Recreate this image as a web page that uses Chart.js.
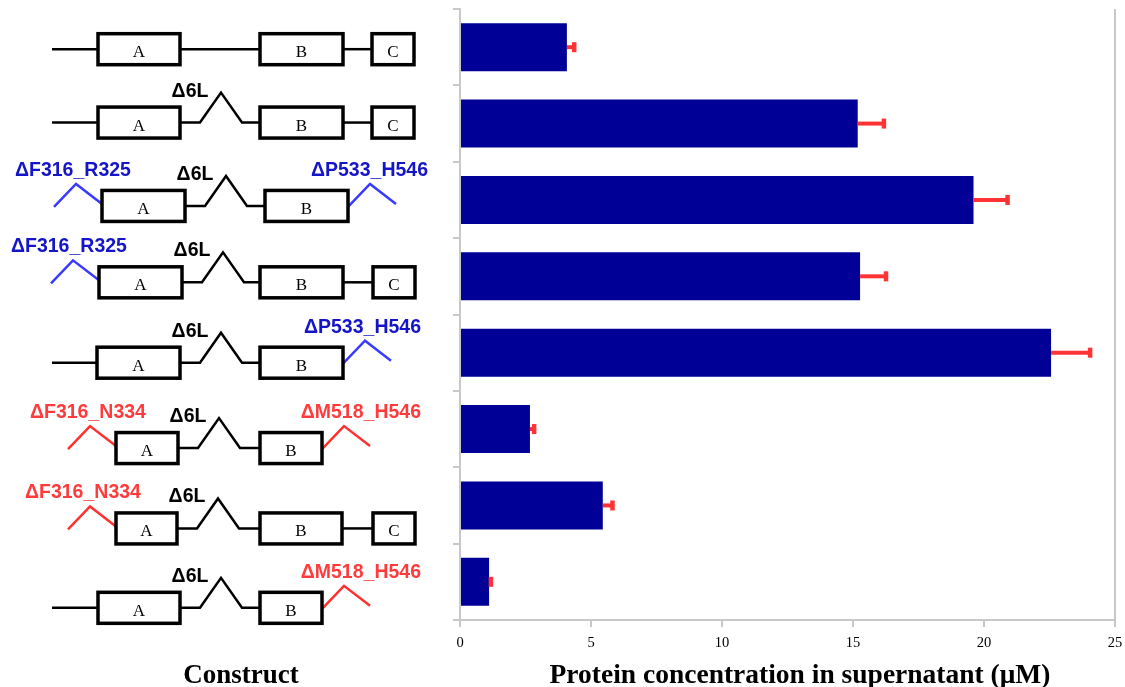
<!DOCTYPE html>
<html>
<head>
<meta charset="utf-8">
<title>Protein concentration by construct</title>
<script src="https://cdn.jsdelivr.net/npm/chart.js@4/dist/chart.umd.min.js"></script>
<style>
  body { margin: 0; background: #fff; }
  canvas { display: block; }
</style>
</head>
<body>
<canvas id="myChart" width="1125" height="687"></canvas>
<script>
// constructs, top to bottom
const constructs = [
    'A-B-C',
    'Δ6L A-B-C',
    'ΔF316_R325 Δ6L A-B ΔP533_H546',
    'ΔF316_R325 Δ6L A-B-C',
    'Δ6L A-B ΔP533_H546',
    'ΔF316_N334 Δ6L A-B ΔM518_H546',
    'ΔF316_N334 Δ6L A-B-C',
    'Δ6L A-B ΔM518_H546'
];

// protein concentration in supernatant (µM) and its error (+ side only)
const concentration = [4.08, 15.18, 19.6, 15.27, 22.56, 2.67, 5.45, 1.11];
const concError = [0.27, 0.99, 1.29, 0.98, 1.48, 0.15, 0.36, 0.06];

const xTicks = [0, 5, 10, 15, 20, 25];

// deletion labels per construct: [left, right]
const leftDeletion = [null, null, 'ΔF316_R325', 'ΔF316_R325', null, 'ΔF316_N334', 'ΔF316_N334', null];
const rightDeletion = [null, null, 'ΔP533_H546', null, 'ΔP533_H546', 'ΔM518_H546', null, 'ΔM518_H546'];
const hasLinkerDeletion = [false, true, true, true, true, true, true, true];
const hasDomainC = [true, true, false, true, false, false, true, false];

// drawing layout for the construct sketches (pixels)
const sketchLayout = [
    { dy: 2,  a: [98, 180],  b: [260, 343], c: [372, 414], lx: 15,  rx: 421 },
    { dy: -1, a: [98, 180],  b: [260, 343], c: [372, 414], lx: 15,  rx: 421 },
    { dy: 6,  a: [102, 185], b: [265, 348], c: null,       lx: 15,  rx: 428 },
    { dy: 6,  a: [99, 182],  b: [260, 343], c: [373, 415], lx: 11,  rx: 421 },
    { dy: 10, a: [97, 180],  b: [260, 343], c: null,       lx: 15,  rx: 421 },
    { dy: 19, a: [116, 178], b: [260, 322], c: null,       lx: 30,  rx: 421 },
    { dy: 23, a: [116, 177], b: [260, 342], c: [373, 415], lx: 25,  rx: 421 },
    { dy: 26, a: [98, 180],  b: [260, 322], c: null,       lx: 15,  rx: 421 }
];

const BAR_COLOR = '#000096';
const ERR_COLOR = '#ff3333';
const AXIS_GRAY = '#c8c8c8';

function deletionColors(label) {
    // F316_N334 / M518_H546 are red, the shorter ones blue
    if (label.includes('N334') || label.includes('M518')) {
        return { text: '#ff3b3b', line: '#ff3030' };
    }
    return { text: '#1414c8', line: '#3a3aff' };
}

function drawBox(ctx, x0, x1, y, letter) {
    ctx.lineWidth = 3.5;
    ctx.strokeStyle = '#000';
    ctx.fillStyle = '#fff';
    ctx.fillRect(x0, y - 15.5, x1 - x0, 31);
    ctx.strokeRect(x0, y - 15.5, x1 - x0, 31);
    ctx.fillStyle = '#000';
    ctx.font = '17px "Liberation Serif", serif';
    ctx.textAlign = 'center';
    ctx.textBaseline = 'alphabetic';
    ctx.fillText(letter, (x0 + x1) / 2, y + 8);
}

function polyline(ctx, pts, color, width) {
    ctx.beginPath();
    ctx.moveTo(pts[0][0], pts[0][1]);
    for (let k = 1; k < pts.length; k++) ctx.lineTo(pts[k][0], pts[k][1]);
    ctx.strokeStyle = color;
    ctx.lineWidth = width;
    ctx.lineJoin = 'miter';
    ctx.stroke();
}

// construct sketches to the left of the y axis, one per category
const constructSketches = {
    id: 'constructSketches',
    afterDraw(chart) {
        const ctx = chart.ctx;
        const yScale = chart.scales.y;
        const labelFont = 'bold 19.5px "Liberation Sans", Arial, sans-serif';
        ctx.save();
        constructs.forEach((name, i) => {
            const L = sketchLayout[i];
            const y = yScale.getPixelForValue(i) + L.dy;
            const aL = L.a[0], aR = L.a[1], bL = L.b[0], bR = L.b[1];

            // N-terminal tail or deleted segment
            if (leftDeletion[i]) {
                const col = deletionColors(leftDeletion[i]);
                polyline(ctx, [[aL - 48, y + 1], [aL - 26, y - 22], [aL, y - 2]], col.line, 2.5);
                ctx.fillStyle = col.text;
                ctx.font = labelFont;
                ctx.textAlign = 'left';
                ctx.fillText(leftDeletion[i], L.lx, y - 30);
            } else {
                polyline(ctx, [[52, y], [aL, y]], '#000', 2.5);
            }

            // linker between A and B
            if (hasLinkerDeletion[i]) {
                polyline(ctx, [[aR, y], [aR + 20, y], [aR + 41, y - 30], [aR + 62, y], [bL, y]], '#000', 2.5);
                ctx.fillStyle = '#000';
                ctx.font = labelFont;
                ctx.textAlign = 'center';
                ctx.fillText('Δ6L', aR + 10, y - 26);
            } else {
                polyline(ctx, [[aR, y], [bL, y]], '#000', 2.5);
            }

            // C-terminal side
            if (hasDomainC[i]) {
                polyline(ctx, [[bR, y], [L.c[0], y]], '#000', 2.5);
            }
            if (rightDeletion[i]) {
                const col = deletionColors(rightDeletion[i]);
                polyline(ctx, [[bR, y + 1], [bR + 22, y - 22], [bR + 48, y - 2]], col.line, 2.5);
                ctx.fillStyle = col.text;
                ctx.font = labelFont;
                ctx.textAlign = 'right';
                ctx.fillText(rightDeletion[i], L.rx, y - 30);
            }

            drawBox(ctx, aL, aR, y, 'A');
            drawBox(ctx, bL, bR, y, 'B');
            if (hasDomainC[i]) drawBox(ctx, L.c[0], L.c[1], y, 'C');
        });

        // axis titles
        ctx.fillStyle = '#000';
        ctx.textAlign = 'center';
        ctx.textBaseline = 'alphabetic';
        ctx.font = 'bold 27px "Liberation Serif", serif';
        ctx.fillText('Construct', 241, 683);
        ctx.font = 'bold 27.5px "Liberation Serif", serif';
        ctx.fillText('Protein concentration in supernatant (μM)', 800, 683);
        ctx.restore();
    }
};

// one-sided error bars in red
const errorBars = {
    id: 'errorBars',
    afterDatasetsDraw(chart) {
        const ctx = chart.ctx;
        const xScale = chart.scales.x;
        const yScale = chart.scales.y;
        ctx.save();
        concentration.forEach((v, i) => {
            const x0 = xScale.getPixelForValue(v);
            const x1 = xScale.getPixelForValue(v + concError[i]);
            const y = yScale.getPixelForValue(i);
            ctx.strokeStyle = ERR_COLOR;
            ctx.lineWidth = 4;
            ctx.beginPath();
            ctx.moveTo(x0, y);
            ctx.lineTo(x1, y);
            ctx.stroke();
            ctx.fillStyle = ERR_COLOR;
            ctx.fillRect(x1 - 2, y - 5, 4.5, 10);
        });
        ctx.restore();
    }
};

const ctx = document.getElementById('myChart').getContext('2d');
const myChart = new Chart(ctx, {
    type: 'bar',
    data: {
        labels: constructs,
        datasets: [{
            label: 'Protein concentration',
            data: concentration,
            backgroundColor: BAR_COLOR,
            borderWidth: 0,
            barPercentage: 0.63,
            categoryPercentage: 1
        }]
    },
    options: {
        indexAxis: 'y',
        responsive: false,
        animation: false,
        devicePixelRatio: 1,
        layout: { padding: { top: 9, right: 10, left: 0, bottom: 0 } },
        plugins: {
            legend: { display: false },
            tooltip: { enabled: false }
        },
        scales: {
            x: {
                min: 0,
                max: 25,
                afterBuildTicks: scale => {
                    scale.ticks = xTicks.map(v => ({ value: v }));
                },
                afterFit: scale => {
                    scale.height = 67;
                    scale.paddingLeft = 0;
                    scale.paddingRight = 0;
                },
                ticks: {
                    color: '#000',
                    font: { family: '"Liberation Serif", serif', size: 14.5 },
                    padding: 7,
                    maxRotation: 0
                },
                grid: {
                    color: c => (c.tick && c.tick.value === 25 ? AXIS_GRAY : 'rgba(0,0,0,0)'),
                    tickColor: AXIS_GRAY,
                    lineWidth: 2,
                    tickLength: 7
                },
                border: { color: AXIS_GRAY, width: 2 }
            },
            y: {
                offset: true,
                afterFit: scale => { scale.width = 460; },
                ticks: { display: false },
                grid: {
                    offset: true,
                    drawOnChartArea: false,
                    color: AXIS_GRAY,
                    lineWidth: 2,
                    tickLength: 7
                },
                border: { color: AXIS_GRAY, width: 2 }
            }
        }
    },
    plugins: [errorBars, constructSketches]
});
</script>
</body>
</html>
